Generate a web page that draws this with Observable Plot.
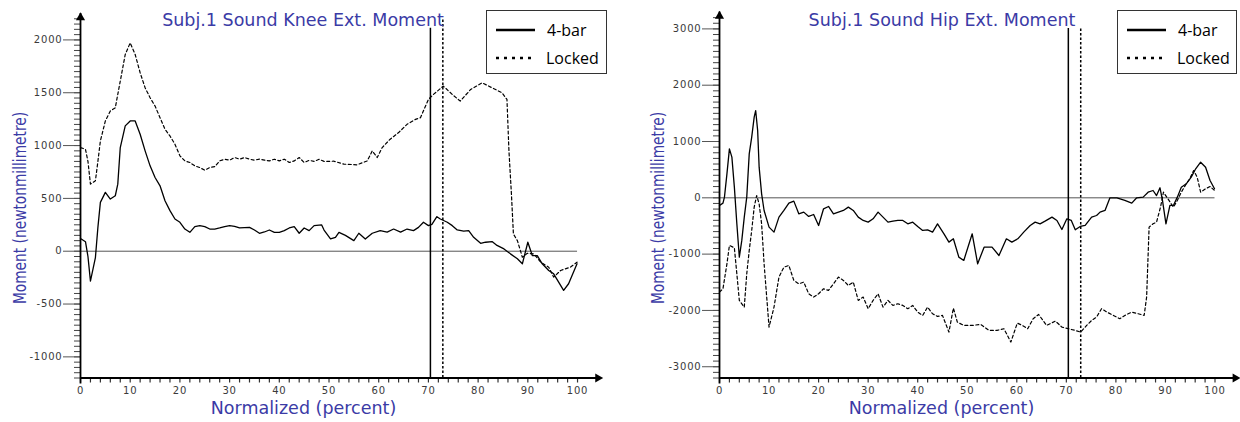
<!DOCTYPE html>
<html>
<head>
<meta charset="utf-8">
<script src="https://cdn.jsdelivr.net/npm/d3@7"></script>
<script src="https://cdn.jsdelivr.net/npm/@observablehq/plot@0.6"></script>
<style>
  body { margin: 0; background: #fff; }
  #wrap { position: relative; width: 1240px; height: 422px; background: #fff; overflow: hidden; }
  .chart { position: absolute; top: 0; }
  .chart svg [aria-label="text"] text { letter-spacing: 0.8px; }
  .ttl { position: absolute; font-family: "DejaVu Sans", Verdana, sans-serif; font-size: 17.5px; color: #3b3ba6; white-space: nowrap; transform: translate(-50%, -50%); }
  .ylab { position: absolute; font-family: "Liberation Sans Narrow", "DejaVu Sans Condensed", "DejaVu Sans", sans-serif; font-stretch: condensed; font-size: 17px; color: #3b3ba6; white-space: nowrap; transform: translate(-50%, -50%) rotate(-90deg) scaleX(0.9); }
  .legend { position: absolute; border: 1px solid #333; background: #fff; box-sizing: border-box; }
  .legend .lt { position: absolute; font-family: "Open Sans", "Noto Sans", sans-serif; font-size: 16px; color: #000; transform: translateY(-50%); white-space: nowrap; }
  .legend svg { position: absolute; left: 0; top: 0; }
</style>
</head>
<body>
<div id="wrap"></div>
<script>
// ---------- data ----------
const kneeBarX = [0,1,1.5,2,3,3.5,4,5,6,7,7.5,8,9,10,11,12,13,14,15,16,17,18,19,20,21,22,23,24,25,26,27,28,29,30,31,32,33,34,35,36,37,38,39,40,41,42,43,44,45,46,47,48.5,49,50.3,51.3,52,53.3,55,56,57.3,58.7,60.3,61.7,63,64.4,65.7,67,68,69,70,70.7,71.7,72.4,73.8,74.8,75.8,77.1,78.1,79.1,80.5,81.5,82.8,83.8,85.2,86.5,87.9,88.9,90,90.9,91.9,92.9,94.2,95.2,97.2,98.2,99.9];
const kneeBarY = [120,90,-50,-283,-60,226,462,557,494,525,635,981,1186,1233,1233,1107,950,808,698,619,478,384,305,274,210,179,233,242,233,210,210,220,233,242,236,220,223,226,201,170,182,201,179,179,195,220,233,170,220,195,242,250,200,116,132,179,150,100,170,116,170,195,180,210,180,210,195,226,274,242,255,327,305,274,242,201,190,195,132,75,85,91,55,22,-25,-72,-119,85,-41,-41,-119,-182,-214,-371,-308,-119];

const kneeLockX = [0,1,1.5,2,3,3.5,4,5,6,7,8,9,10,11,12,13,14,15,16,17,18,19,20,21,22,23,24,25,26,27,28,29,30,31,32,33,34,35,36,37,38,39,40,41,42,43,44,45,46,47,48,49,51,53,55.6,57.7,58.7,59.7,60.7,62.3,64,65.7,67.4,68.4,70,71,73,74.8,76.4,78.5,80.8,82.8,84.8,85.8,86.2,86.7,87.1,87.9,88.9,89.9,91.2,92.6,94.2,95.2,96.6,98.6,99.9];
const kneeLockY = [981,965,850,635,667,850,1044,1233,1327,1358,1610,1862,1972,1862,1689,1547,1453,1374,1264,1154,1091,1013,903,855,840,808,792,767,792,800,855,871,862,887,871,887,871,862,871,862,855,871,855,871,840,855,887,840,860,850,870,850,852,824,818,855,950,887,981,1060,1123,1201,1248,1264,1437,1484,1563,1484,1421,1531,1594,1547,1500,1437,950,541,163,100,-57,-20,-25,-104,-151,-245,-182,-150,-104];

const hipBarX = [0,0.7,1,1.5,2,2.5,3,3.5,4,4.5,5,5.5,6,6.5,7,7.3,7.7,8,8.5,9,10,11,12,13,14,15,16,17,18,19,20,21,22,23,24,25,26,27,28,29,30,31,32,33,34,35,36,37,38,39,40,41,42,43,44,45.3,46.3,47.2,48.3,49.3,51,52.1,53.4,55,56.4,57.9,59,60.2,61.4,62.7,63.7,64.7,65.7,67.1,68.1,69.1,70.1,71,71.8,72.8,73.8,75.1,76.1,76.8,77.8,78.8,79.2,80.2,81.8,83.2,84.2,85.5,86.5,87.5,88.2,88.9,89.4,90.1,90.9,91.6,92.4,93.2,94.2,95.2,96.1,97.1,98.1,99,99.9];
const hipBarY = [-136,-95,12,426,870,722,189,-462,-1053,-757,-343,12,781,1077,1432,1550,1195,544,71,-225,-521,-609,-343,-225,-95,-59,-284,-254,-331,-296,-491,-195,-154,-284,-254,-225,-166,-225,-343,-402,-432,-373,-254,-343,-432,-414,-402,-402,-462,-432,-509,-580,-568,-609,-462,-639,-787,-728,-1053,-1112,-639,-1172,-876,-876,-1024,-728,-787,-728,-609,-491,-432,-462,-414,-343,-402,-562,-373,-402,-568,-509,-491,-343,-314,-254,-225,0,0,0,-47,-95,0,12,100,130,40,178,-47,-462,-136,-136,12,189,249,367,515,633,544,308,160];

const hipLockX = [0,0.7,1.5,2,3,3.5,4,5,5.5,6,6.5,7,7.5,8,8.5,9,10,11,12,13,14,15,16,17,18,19,20,21,22,23,24,25,26,27,28,29,30,31,32,33,34,35,36,37,38,39,40,41,42,43,44,45,46.3,47.2,48,49.3,51,52.7,54.4,56,57.4,58.8,60.1,61.1,62.2,63.3,64.4,66,67.8,69.1,70.4,71.8,72.9,74.1,75.1,76.1,77.1,78.2,79.5,80.8,81.8,83.2,84.5,85.7,86.2,86.7,87.5,88.2,89,89.6,90.5,91.6,92.4,93.2,94.2,94.9,95.7,96.4,97.1,98.1,99,99.9];
const hipLockY = [-1675,-1615,-1172,-846,-888,-1349,-1822,-1941,-1349,-935,-580,-166,41,-107,-462,-1172,-2296,-1941,-1408,-1231,-1201,-1467,-1527,-1497,-1704,-1763,-1704,-1615,-1645,-1527,-1408,-1467,-1556,-1497,-1822,-1763,-1970,-1822,-1704,-1941,-1822,-1911,-1882,-1911,-1970,-1911,-2030,-2089,-1941,-2059,-2107,-2089,-2385,-1959,-2207,-2266,-2266,-2249,-2355,-2355,-2325,-2562,-2225,-2266,-2325,-2148,-2071,-2266,-2189,-2296,-2325,-2355,-2385,-2266,-2178,-2118,-1970,-2030,-2089,-2148,-2089,-2030,-2059,-2089,-1763,-521,-462,-432,-166,100,-18,-166,-47,100,249,337,485,367,100,160,201,130];

const xMajorTicks = [0,10,20,30,40,50,60,70,80,90,100];
const xMinorTicks = d3.range(0, 101, 2);
const kneeYMajor = [-1000,-500,0,500,1000,1500,2000];
const kneeYMinor = d3.range(-1200, 2201, 50);
const hipYMajor = [-3000,-2000,-1000,0,1000,2000,3000];
const hipYMinor = d3.range(-3200, 3201, 100);

const seriesNames = ["4-bar", "Locked"];
const eventLines = [70.4, 72.9];   // toe-off markers (4-bar, Locked)
const titles = ["Subj.1 Sound Knee Ext. Moment", "Subj.1 Sound Hip Ext. Moment"];
const xTitle = "Normalized (percent)";
const yTitle = "Moment (newtonmillimetre)";

// ---------- drawing ----------
const wrap = document.getElementById("wrap");
const zip = (xs, ys) => xs.map((x, i) => ({x, y: ys[i]}));

function chart(o) {
  const W = 620, H = 422;
  const xMax = 104.5;
  const pxPerX = (W - o.mL - o.mR) / xMax;
  const pxPerY = (H - o.mT - o.mB) / (o.yDom[1] - o.yDom[0]);
  const px = p => p / pxPerX;       // pixel length -> x units
  const py = p => p / pxPerY;       // pixel length -> y units
  const y0 = o.yDom[0];
  return Plot.plot({
    width: W, height: H,
    marginLeft: o.mL, marginRight: o.mR, marginTop: o.mT, marginBottom: o.mB,
    x: {domain: [0, xMax], axis: null},
    y: {domain: o.yDom, axis: null},
    style: {background: "transparent", overflow: "visible", fontFamily: "DejaVu Sans, Verdana, sans-serif"},
    marks: [
      Plot.ruleY([0], {x1: 0, x2: 100, stroke: "#555", strokeWidth: 1}),
      Plot.ruleY(o.yMinor, {y: d => d, x1: -px(6), x2: 0, stroke: "#444", strokeWidth: 1}),
      Plot.ruleY(o.yMajor, {y: d => d, x1: -px(17), x2: 0, stroke: "#555", strokeWidth: 1}),
      Plot.text(o.yMajor, {x: 0, y: d => d, text: d => String(d), textAnchor: "end", dx: -18, fontSize: 10, fill: "#3a3a3a"}),
      Plot.ruleX(xMinorTicks, {x: d => d, y1: y0, y2: y0 - py(5), stroke: "#333", strokeWidth: 1.2}),
      Plot.text(xMajorTicks, {x: d => d, y: y0, text: d => String(d), dy: 13, fontSize: 10, fill: "#3a3a3a"}),
      Plot.ruleX([eventLines[0]], {x: d => d, y1: y0, y2: o.vTop[0], stroke: "#000", strokeWidth: 1.5}),
      Plot.ruleX([eventLines[1]], {x: d => d, y1: y0, y2: o.vTop[1], stroke: "#000", strokeWidth: 1.5, strokeDasharray: "2.5,2"}),
      Plot.line(o.lock, {x: "x", y: "y", stroke: "#000", strokeWidth: 1.2, strokeDasharray: "3,2.5"}),
      Plot.line(o.bar, {x: "x", y: "y", stroke: "#000", strokeWidth: 1.3}),
      Plot.ruleX([0], {x: d => d, y1: y0 - py(6), y2: o.yDom[1], stroke: "#000", strokeWidth: 1.8}),
      Plot.ruleY([y0], {y: d => d, x1: 0, x2: xMax, stroke: "#000", strokeWidth: 1.8}),
      Plot.dot([{x: 0, y: o.yDom[1]}], {x: "x", y: "y", symbol: "triangle", r: 3.4, fill: "#000", stroke: null, dy: 4}),
      Plot.dot([{x: xMax, y: y0}], {x: "x", y: "y", symbol: "triangle", r: 3.4, fill: "#000", stroke: null, rotate: 90, dx: -2})
    ]
  });
}

function place(el, left) {
  const d = document.createElement("div");
  d.className = "chart";
  d.style.left = left + "px";
  d.appendChild(el);
  wrap.appendChild(d);
}

place(chart({
  mL: 80, mR: 20.6, mT: 13, mB: 44.5,
  yDom: [-1200, 2250], yMajor: kneeYMajor, yMinor: kneeYMinor,
  vTop: [2110, 2200],
  bar: zip(kneeBarX, kneeBarY), lock: zip(kneeLockX, kneeLockY)
}), 0);

place(chart({
  mL: 99, mR: 3.2, mT: 11.5, mB: 44.5,
  yDom: [-3200, 3300], yMajor: hipYMajor, yMinor: hipYMinor,
  vTop: [3005, 3005],
  bar: zip(hipBarX, hipBarY), lock: zip(hipLockX, hipLockY)
}), 620);

function label(cls, text, x, y) {
  const d = document.createElement("div");
  d.className = cls;
  d.textContent = text;
  d.style.left = x + "px";
  d.style.top = y + "px";
  wrap.appendChild(d);
}
label("ttl", titles[0], 303, 20);
label("ttl", titles[1], 942, 20);
label("ttl", xTitle, 303.5, 408);
label("ttl", xTitle, 941.5, 408);
label("ylab", yTitle, 20, 208);
label("ylab", yTitle, 658, 208);

function legend(left, top, w, h) {
  const d = document.createElement("div");
  d.className = "legend";
  d.style.left = left + "px"; d.style.top = top + "px";
  d.style.width = w + "px"; d.style.height = h + "px";
  const ns = "http://www.w3.org/2000/svg";
  const s = document.createElementNS(ns, "svg");
  s.setAttribute("width", w); s.setAttribute("height", h);
  const rows = [{y: 19, dash: null}, {y: 47, dash: "3,5"}];
  rows.forEach((r, i) => {
    const l = document.createElementNS(ns, "line");
    l.setAttribute("x1", 9); l.setAttribute("x2", 48);
    l.setAttribute("y1", r.y); l.setAttribute("y2", r.y);
    l.setAttribute("stroke", "#000");
    l.setAttribute("stroke-width", 2.6);
    if (r.dash) l.setAttribute("stroke-dasharray", r.dash);
    s.appendChild(l);
    const t = document.createElement("div");
    t.className = "lt";
    t.textContent = seriesNames[i];
    t.style.left = (i === 0 ? 60 : 59) + "px";
    t.style.top = r.y + "px";
    d.appendChild(t);
  });
  d.appendChild(s);
  wrap.appendChild(d);
}
legend(486, 10, 121, 64);
legend(1117, 10, 120, 64);
</script>
</body>
</html>
